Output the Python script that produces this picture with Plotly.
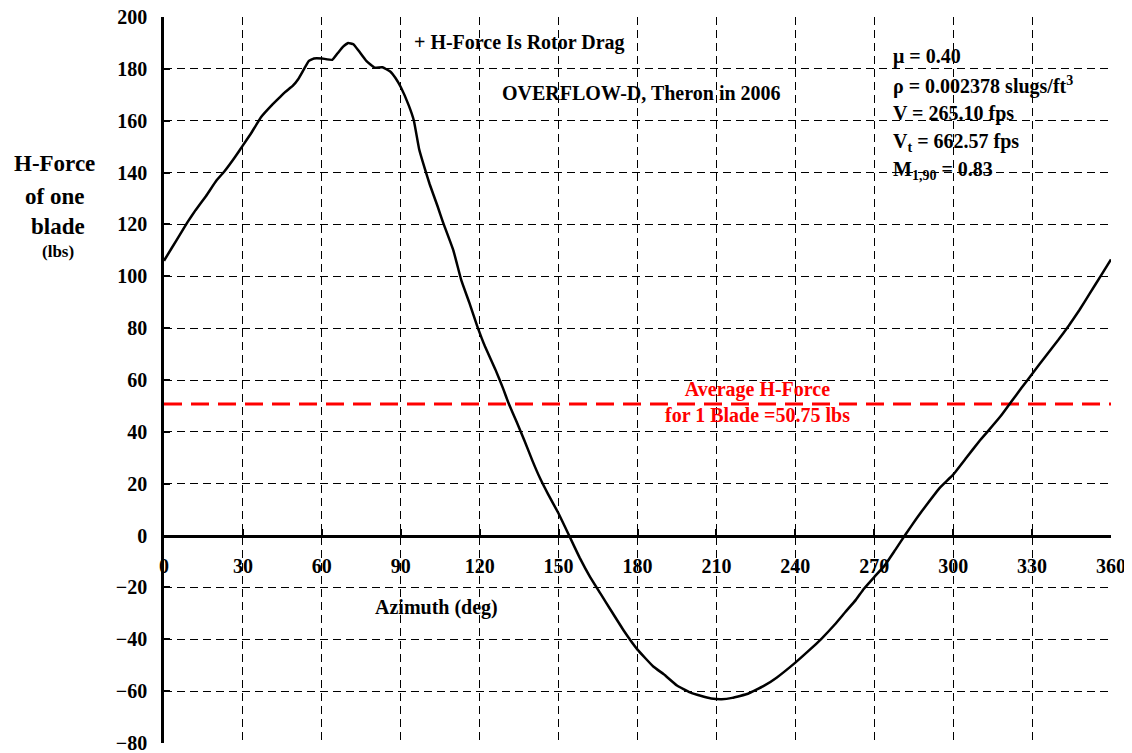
import plotly.graph_objects as go

# azimuth (deg) and H-force of one blade (lbs)
azimuth = [0, 3, 6, 9, 12, 16, 20, 23, 27, 30, 33, 37, 41, 44, 46, 49, 51, 53, 55, 57,
           60, 64, 66, 68, 70, 72, 74, 77, 80, 83, 86, 88, 90, 93, 95, 97, 99, 101, 104,
           106, 110, 113, 116, 119, 122, 126, 129, 131, 134, 137, 140, 143, 146, 150, 154,
           158, 162, 166, 170, 175, 180, 186, 190, 195, 200, 204, 208, 212, 216, 222, 228,
           233, 240, 245, 250, 255, 259, 263, 266, 270, 274, 278, 282, 286, 290, 295, 300,
           305, 310, 313, 318, 322, 326, 330, 335, 340, 344, 348, 352, 356, 360]
h_force = [106, 111, 116, 121, 125.5, 131, 137, 140.5, 146, 150.5, 155, 161.5, 166, 169,
           171, 173.5, 176, 179.5, 183, 184, 184, 183.5, 186, 188.5, 190, 189.5, 187, 183,
           180.5, 180.6, 179, 176.5, 173, 166, 160, 149, 142, 135.5, 127, 121, 110, 98.5,
           90, 81, 73, 64, 56.5, 51, 44, 36.7, 29, 22, 16, 8.5, 0, -8.5, -16, -22.5, -29,
           -37, -44, -50.5, -53.5, -57.8, -60.5, -61.8, -62.8, -63.1, -62.6, -61, -58,
           -54.7, -49, -44.5, -39.7, -34.3, -29.5, -24.8, -20.6, -16, -11.5, -5.5, 0.6,
           6.5, 12, 18.5, 23.5, 30, 36.5, 40, 46, 51.5, 57, 62.3, 69, 75.5, 81, 87, 93.5,
           100, 106.5]
avg_force = 50.75
x_ticks = list(range(0, 361, 30))
y_ticks = list(range(-80, 201, 20))

params = ["\u03bc = 0.40",
          "\u03c1 = 0.002378 slugs/ft<sup>3</sup>",
          "V = 265.10 fps",
          "V<sub>t</sub> = 662.57 fps",
          "M<sub>1,90</sub> = 0.83"]
param_y = [184.6, 173.7, 162.9, 151.7, 140.9]

FONT = "Liberation Serif"

fig = go.Figure()
fig.add_trace(go.Scatter(x=[0, 360], y=[avg_force, avg_force], mode="lines",
                         line=dict(color="#ff0000", width=3, dash="18px,9px"),
                         hoverinfo="skip"))
fig.add_trace(go.Scatter(x=azimuth, y=h_force, mode="lines",
                         line=dict(color="black", width=2.5, shape="spline", smoothing=0.3)))

ann = [
    dict(x=135, y=190, text="+ H-Force Is Rotor Drag"),
    dict(x=181.7, y=170.7, text="OVERFLOW-D, Theron in 2006"),
    dict(x=225.5, y=51.5, text="Average H-Force<br>for 1 Blade =50.75 lbs",
         font=dict(family=FONT, size=20, color="#ff0000", weight="bold")),
    dict(x=103.7, y=-27.8, text="Azimuth (deg)"),
]
for p, yy in zip(params, param_y):
    ann.append(dict(x=276.5, y=yy, text=p, xanchor="left"))
for a in ann:
    a.setdefault("font", dict(family=FONT, size=20, color="black", weight="bold"))
    a.setdefault("xanchor", "center")
    a.update(xref="x", yref="y", showarrow=False)

ytitle = [("H-Force", -0.116, 143.6, 23), ("of one", -0.116, 130.9, 23),
          ("blade", -0.112, 119.3, 23), ("(lbs)", -0.112, 109.7, 17)]
for t, xx, yy, s in ytitle:
    ann.append(dict(x=xx, y=yy, xref="paper", yref="y", text=t, showarrow=False,
                    xanchor="center", font=dict(family=FONT, size=s, color="black", weight="bold")))

fig.update_layout(
    width=1132, height=753,
    margin=dict(l=156, r=29, t=9, b=18),
    paper_bgcolor="white", plot_bgcolor="white",
    showlegend=False,
    annotations=ann,
    xaxis=dict(range=[0, 360], tickvals=x_ticks, anchor="free", position=80 / 280,
               showgrid=True, gridcolor="black", gridwidth=1, griddash="8px,5px",
               showline=True, linecolor="black", linewidth=2.5,
               ticks="inside", ticklen=6, tickwidth=2, tickcolor="black",
               ticklabelstandoff=12, zeroline=False, automargin=False,
               ticklabeloverflow="allow",
               tickfont=dict(family=FONT, size=20, color="black", weight="bold")),
    yaxis=dict(range=[-80, 200], tickvals=y_ticks,
               showgrid=True, gridcolor="black", gridwidth=1, griddash="8px,5px",
               showline=True, linecolor="black", linewidth=2.5,
               ticks="inside", ticklen=6, tickwidth=2, tickcolor="black",
               ticklabelstandoff=10, zeroline=False, automargin=False,
               ticklabeloverflow="allow",
               tickfont=dict(family=FONT, size=20, color="black", weight="bold")),
)

fig.write_html("out.html")
